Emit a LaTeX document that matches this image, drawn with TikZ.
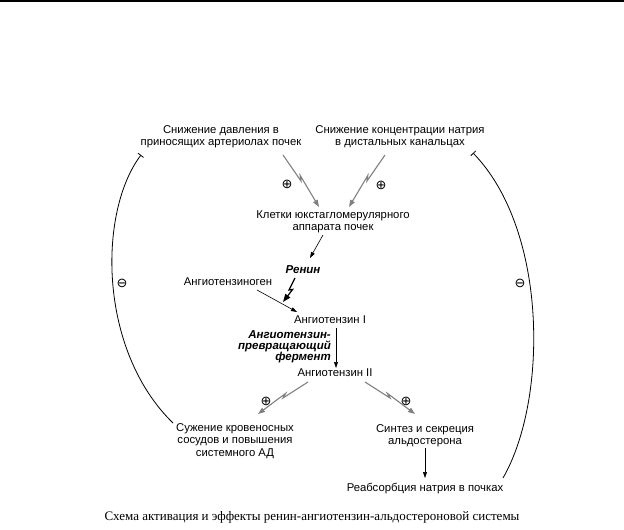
\documentclass[tikz,border=0pt]{standalone}
\usepackage{fontspec}
\setmainfont{Liberation Serif}
\newfontfamily\arialf{Liberation Sans}
\newfontfamily\symf{DejaVu Sans}
\usetikzlibrary{arrows.meta,calc}
\tikzset{
    txt/.style={font=\arialf\fontsize{11.3}{12.2}\selectfont, align=center, inner sep=0pt},
    enz/.style={font=\arialf\bfseries\itshape\fontsize{11.5}{10.5}\selectfont, inner sep=0pt},
    sgn/.style={font=\symf\fontsize{13}{13}\selectfont, inner sep=0pt},
    zap/.style={to path={-- ($(\tikztostart)!0.5!(\tikztotarget)$) -- ($(\tikztostart)!0.42!(\tikztotarget)!#1!90:(\tikztotarget)$) -- (\tikztotarget)}},
    act/.style={draw=black!50, line width=1.1pt, -{Triangle[length=7pt,width=5pt]}},
    plain/.style={draw=black, line width=0.6pt, -{Triangle[length=6pt,width=4pt]}},
    heavy/.style={draw=black, line width=1.2pt, -{Triangle[length=8pt,width=6pt]}},
    inhib/.style={draw=black, line width=0.8pt, -{Bar[width=7pt]}},
}
\begin{document}
\begin{tikzpicture}[x=1pt, y=-1pt]
    \useasboundingbox (0,0) rectangle (624,530);
    \draw[line width=2pt] (0,1) -- (624,1);
    \node[txt] (snd) at (221,137) {Снижение давления в\\приносящих артериолах почек};
    \node[txt] (snk) at (400,137) {Снижение концентрации натрия\\в дистальных канальцах};
    \node[txt] (jga) at (333,222) {Клетки юкстагломерулярного\\аппарата почек};
    \node[enz] (ren) at (303,270) {Ренин};
    \node[txt] (agen) at (228,282) {Ангиотензиноген};
    \node[txt] (ang1) at (330,320) {Ангиотензин I};
    \node[enz, align=right, anchor=east] (ace) at (331,347) {Ангиотензин-\\превращающий\\фермент};
    \node[txt] (ang2) at (335,373) {Ангиотензин II};
    \node[txt] (suz) at (235,441) {Сужение кровеносных\\сосудов и повышения\\системного АД};
    \node[txt] (sin) at (425,436) {Синтез и секреция\\альдостерона};
    \node[txt] (reab) at (425,489) {Реабсорбция натрия в почках};
    \node (cap) at (312,517) {\fontsize{13}{14}\selectfont Схема активация и эффекты ренин-ангиотензин-альдостероновой системы};
    \node[sgn] (p1) at (287,184) {⊕};
    \node[sgn] (p2) at (381,185) {⊕};
    \node[sgn] (p3) at (266,401) {⊕};
    \node[sgn] (p4) at (406,401) {⊕};
    \node[sgn] (m1) at (122,283) {⊖};
    \node[sgn] (m2) at (520,283) {⊖};
    \coordinate (a1) at (283,155);
    \coordinate (b1) at (319,207);
    \coordinate (a2) at (385,155);
    \coordinate (b2) at (349,207);
    \coordinate (a3) at (308,382);
    \coordinate (b3) at (258,414);
    \coordinate (a4) at (365,382);
    \coordinate (b4) at (415,414);
    \coordinate (j1) at (323,235);
    \coordinate (j2) at (310,258);
    \coordinate (r1) at (295,278);
    \coordinate (r2) at (283,302);
    \coordinate (g1) at (257,290);
    \coordinate (g2) at (297,312);
    \coordinate (e1) at (336,328);
    \coordinate (e2) at (336,368);
    \coordinate (s1) at (425,448);
    \coordinate (s2) at (425,478);
    \coordinate (l1) at (173,423);
    \coordinate (l2) at (141,155);
    \coordinate (q1) at (503,478);
    \coordinate (q2) at (473,153);
    \draw[act] (a1) to[zap=2.5pt] (b1);
    \draw[act] (a2) to[zap=-2.5pt] (b2);
    \draw[act] (a3) to[zap=-2.5pt] (b3);
    \draw[act] (a4) to[zap=2.5pt] (b4);
    \draw[plain] (j1) -- (j2);
    \draw[heavy] (r1) to[zap=3pt] (r2);
    \draw[plain] (g1) -- (g2);
    \draw[plain] (e1) -- (e2);
    \draw[plain] (s1) -- (s2);
    \draw[inhib] (l1) .. controls (98,350) and (98,212) .. (l2);
    \draw[inhib] (q1) .. controls (548,400) and (548,230) .. (q2);
\end{tikzpicture}
\end{document}
